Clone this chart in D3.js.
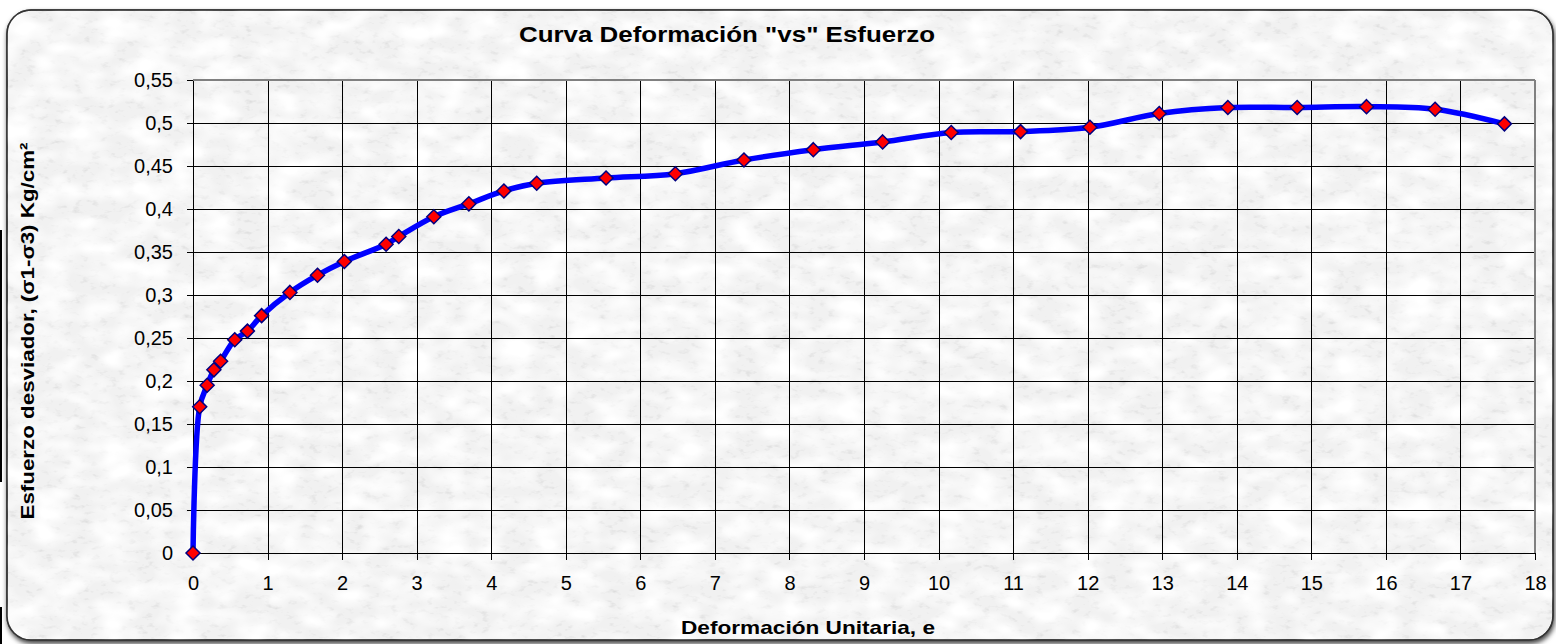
<!DOCTYPE html>
<html lang="es">
<head>
<meta charset="UTF-8">
<title>Curva Deformación vs Esfuerzo</title>
<script src="https://d3js.org/d3.v7.min.js"></script>
<style>
  body { margin: 0; background: #fff; }
  svg { display: block; font-family: "Liberation Sans", Arial, sans-serif; }
  .grid line { stroke: #000; stroke-width: 1; shape-rendering: crispEdges; }
  .axis path, .axis line { stroke: #000; shape-rendering: crispEdges; }
  .axis text { font-size: 20px; fill: #000; font-family: "Liberation Sans", Arial, sans-serif; }
</style>
</head>
<body>
<svg width="1556" height="644"></svg>
<script>
// deformación unitaria (%) y esfuerzo desviador
const deformacion = [0, 0.09, 0.19, 0.28, 0.37, 0.56, 0.73, 0.92, 1.30, 1.67, 2.03, 2.59, 2.76,
  3.23, 3.70, 4.17, 4.61, 5.54, 6.47, 7.39, 8.32, 9.25, 10.17, 11.10, 12.03, 12.96, 13.88,
  14.81, 15.74, 16.66, 17.59];
const esfuerzo = [0, 0.170, 0.195, 0.213, 0.223, 0.248, 0.258, 0.276, 0.303, 0.323, 0.339, 0.359, 0.368,
  0.391, 0.406, 0.421, 0.430, 0.436, 0.441, 0.457, 0.469, 0.478, 0.489, 0.490, 0.495, 0.511, 0.518,
  0.518, 0.519, 0.516, 0.499];
const xTicks = d3.range(0, 19, 1);
const yTicks = d3.range(0, 0.5501, 0.05);

const width = 1556, height = 644;
const margin = {left: 193, right: 21, top: 80, bottom: 91};
const svg = d3.select('svg');

// fondo tipo papel
const defs = svg.append('defs');
const f = defs.append('filter').attr('id', 'paper').attr('x', 0).attr('y', 0).attr('width', 1).attr('height', 1);
f.append('feTurbulence').attr('type', 'fractalNoise').attr('baseFrequency', '0.11 0.2')
  .attr('numOctaves', 3).attr('seed', 7).attr('result', 'n');
f.append('feColorMatrix').attr('in', 'n').attr('type', 'matrix')
  .attr('values', '0 0 0 0 0.62  0 0 0 0 0.62  0 0 0 0 0.62  1.6 0 0 0 -0.9').attr('result', 'dark');
f.append('feTurbulence').attr('type', 'fractalNoise').attr('baseFrequency', '0.03 0.05')
  .attr('numOctaves', 2).attr('seed', 3).attr('result', 'n2');
f.append('feColorMatrix').attr('in', 'n2').attr('type', 'matrix')
  .attr('values', '0 0 0 0 1  0 0 0 0 1  0 0 0 0 1  2.5 0 0 0 -0.9').attr('result', 'light');
f.append('feMerge').call(m => {
  m.append('feMergeNode').attr('in', 'dark');
  m.append('feMergeNode').attr('in', 'light');
});
const sh = defs.append('filter').attr('id', 'shadow').attr('x', -0.05).attr('y', -0.05).attr('width', 1.1).attr('height', 1.1);
sh.append('feDropShadow').attr('dx', 1).attr('dy', 3).attr('stdDeviation', 2.5).attr('flood-color', '#000').attr('flood-opacity', 0.75);
const clip = defs.append('clipPath').attr('id', 'frameClip');
clip.append('rect').attr('x', 7).attr('y', 10).attr('width', 1546).attr('height', 630).attr('rx', 24);

svg.append('rect').attr('x', 7).attr('y', 10).attr('width', 1546).attr('height', 630).attr('rx', 24)
  .attr('fill', '#f1f1f1').attr('stroke', '#444').attr('stroke-width', 1.5).attr('filter', 'url(#shadow)');
svg.append('rect').attr('x', 7).attr('y', 10).attr('width', 1546).attr('height', 630)
  .attr('clip-path', 'url(#frameClip)').attr('filter', 'url(#paper)');
svg.append('rect').attr('x', 7).attr('y', 10).attr('width', 1546).attr('height', 630).attr('rx', 24)
  .attr('fill', 'none').attr('stroke', '#333').attr('stroke-width', 1.5);
// marcas negras en el borde izquierdo de la imagen original
svg.append('line').attr('x1', 1).attr('x2', 1).attr('y1', 230).attr('y2', 482).attr('stroke', '#000').attr('stroke-width', 2);
svg.append('line').attr('x1', 1).attr('x2', 1).attr('y1', 607).attr('y2', 644).attr('stroke', '#000').attr('stroke-width', 2);

const x = d3.scaleLinear().domain([0, 18]).range([margin.left, width - margin.right]);
const y = d3.scaleLinear().domain([0, 0.55]).range([height - margin.bottom, margin.top]);

// cuadrícula
const grid = svg.append('g').attr('class', 'grid');
grid.selectAll('.gx').data(xTicks.slice(1)).join('line')
  .attr('x1', d => Math.round(x(d)) + 0.5).attr('x2', d => Math.round(x(d)) + 0.5)
  .attr('y1', y(0)).attr('y2', y(0.55));
grid.selectAll('.gy').data(yTicks.slice(1)).join('line')
  .attr('x1', x(0)).attr('x2', x(18))
  .attr('y1', d => Math.round(y(d)) + 0.5).attr('y2', d => Math.round(y(d)) + 0.5);

// borde del área de trazado
svg.append('line').attr('x1', x(0)).attr('x2', x(18)).attr('y1', y(0.55)).attr('y2', y(0.55))
  .attr('stroke', '#808080').attr('stroke-width', 2);
svg.append('line').attr('x1', x(18)).attr('x2', x(18)).attr('y1', y(0.55)).attr('y2', y(0))
  .attr('stroke', '#808080').attr('stroke-width', 2);

const fmt = d => d3.format('.2~f')(d).replace('.', ',');
svg.append('g').attr('class', 'axis')
  .attr('transform', `translate(0,${y(0)})`)
  .call(d3.axisBottom(x).tickValues(xTicks).tickSize(7).tickSizeOuter(0))
  .selectAll('text').attr('y', 37).attr('dy', 0);
svg.append('g').attr('class', 'axis')
  .attr('transform', `translate(${x(0)},0)`)
  .call(d3.axisLeft(y).tickValues(yTicks).tickFormat(fmt).tickSize(6).tickSizeOuter(0).tickPadding(14));

// curva suavizada
const pts = deformacion.map((d, i) => [d, esfuerzo[i]]);
svg.append('path').datum(pts)
  .attr('fill', 'none').attr('stroke', '#0000ff').attr('stroke-width', 5.5).attr('stroke-linejoin', 'round')
  .attr('d', d3.line().x(d => x(d[0])).y(d => y(d[1])).curve(d3.curveCatmullRom.alpha(0.5)));

svg.append('g').selectAll('path').data(pts).join('path')
  .attr('transform', d => `translate(${x(d[0])},${y(d[1])})`)
  .attr('d', 'M0,-7L7,0L0,7L-7,0Z')
  .attr('fill', '#ff0000').attr('stroke', '#000080').attr('stroke-width', 1.5);

// textos
svg.append('text').attr('x', 727).attr('y', 42).attr('text-anchor', 'middle')
  .attr('font-size', 22).attr('font-weight', 'bold')
  .attr('textLength', 416).attr('lengthAdjust', 'spacingAndGlyphs')
  .text('Curva Deformación "vs" Esfuerzo');
svg.append('text').attr('x', 808).attr('y', 634).attr('text-anchor', 'middle')
  .attr('font-size', 19).attr('font-weight', 'bold')
  .attr('textLength', 254).attr('lengthAdjust', 'spacingAndGlyphs')
  .text('Deformación Unitaria, e');
svg.append('text').attr('transform', 'translate(34,331) rotate(-90)').attr('text-anchor', 'middle')
  .attr('font-size', 19).attr('font-weight', 'bold')
  .attr('textLength', 377).attr('lengthAdjust', 'spacingAndGlyphs')
  .text('Esfuerzo desviador, (σ1-σ3) Kg/cm²');
</script>
</body>
</html>
